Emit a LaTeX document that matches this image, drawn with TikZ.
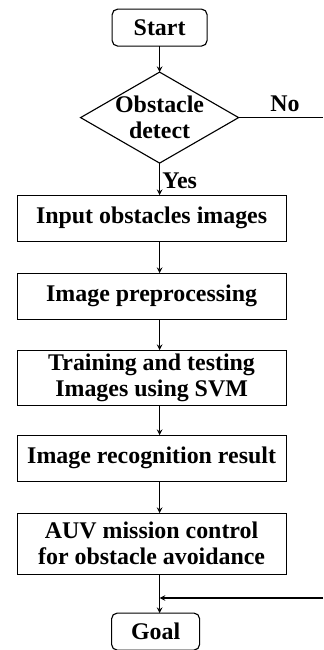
\documentclass[tikz,border=0pt]{standalone}
\usepackage{fontspec}
\setmainfont{Liberation Serif}
\usetikzlibrary{positioning}
\usetikzlibrary{shapes.geometric}

\begin{document}
\begin{tikzpicture}[
        >=stealth,
        every node/.style={font=\fontsize{17}{18.5}\selectfont\bfseries, outer sep=0pt},
        term/.style={rectangle, rounded corners=4pt, draw=black, line width=0.8pt, minimum height=0.925cm},
        box/.style={rectangle, draw=black, line width=0.8pt, minimum width=6.725cm, minimum height=1.15cm, align=center, inner sep=1pt},
        decide/.style={diamond, draw=black, line width=0.8pt, align=center, inner sep=-2pt, shape aspect=1.74, minimum width=3.95cm, minimum height=2.275cm},
        flow/.style={->, line width=0.8pt}
    ]
    \useasboundingbox (0,0) rectangle (8.075,-16.25);

    \node[term, minimum width=2.375cm] (start) at (3.99,-0.69) {Start};
    \node[decide] (detect) [below=0.65cm of start] {Obstacle\\detect};
    \node[box] (input) [below=0.8cm of detect, xshift=-0.2cm] {Input obstacles images};
    \node[box] (prep) [below=0.8cm of input] {Image preprocessing};
    \node[box, minimum height=1.375cm] (svm) [below=0.775cm of prep] {Training and testing\\Images using SVM};
    \node[box] (recog) [below=0.75cm of svm] {Image recognition result};
    \node[box, minimum height=1.525cm] (auv) [below=0.8cm of recog] {AUV mission control\\for obstacle avoidance};
    \node[term, minimum width=2.2cm] (goal) [below=0.975cm of auv, xshift=0.1cm] {Goal};

    % loose ends of the "No" branch at the right edge
    \coordinate (noend) at (8.075,0 |- detect.east);
    \coordinate (back) at (8.075,-14.95);

    \draw[flow] (start.south) to (detect.north);
    \draw[flow] (detect.south) to node[right, inner sep=2pt, yshift=-1pt] {Yes} (input.north -| detect.south);
    \draw[flow] (input.south -| detect.south) to (prep.north -| detect.south);
    \draw[flow] (prep.south -| detect.south) to (svm.north -| detect.south);
    \draw[flow] (svm.south -| detect.south) to (recog.north -| detect.south);
    \draw[flow] (recog.south -| detect.south) to (auv.north -| detect.south);
    \draw[flow] (auv.south -| detect.south) to (goal.north -| detect.south);

    \draw[line width=0.8pt] (detect.east) to node[above, pos=0.55, yshift=1pt] {No} (noend);
    \draw[flow] (back) to (back -| detect.south);
\end{tikzpicture}
\end{document}
